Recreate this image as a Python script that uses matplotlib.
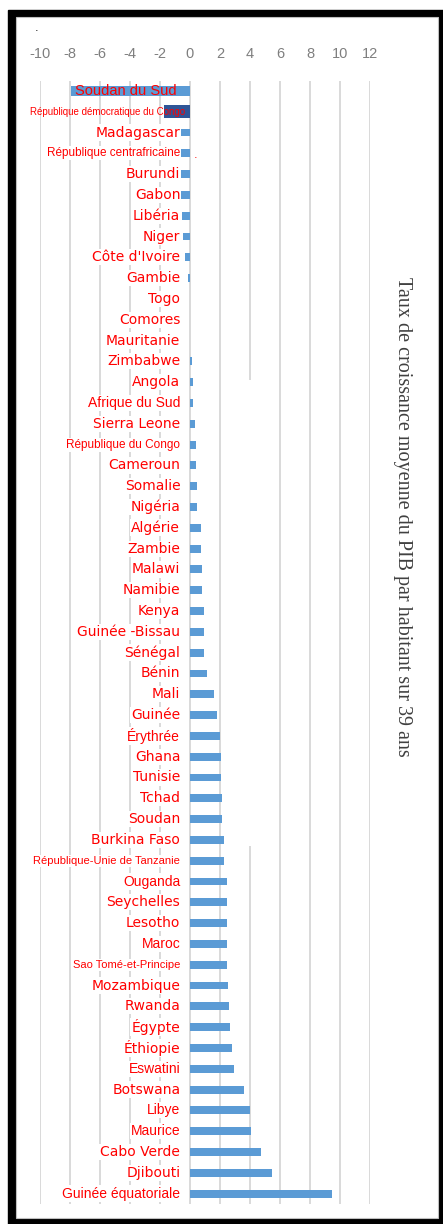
import numpy as np
import matplotlib.pyplot as plt
from matplotlib.patches import Rectangle

# data
pays = ['Soudan du Sud', 'République démocratique du Congo', 'Madagascar',
        'République centrafricaine', 'Burundi', 'Gabon', 'Libéria', 'Niger',
        "Côte d'Ivoire", 'Gambie', 'Togo', 'Comores', 'Mauritanie', 'Zimbabwe',
        'Angola', 'Afrique du Sud', 'Sierra Leone', 'République du Congo',
        'Cameroun', 'Somalie', 'Nigéria', 'Algérie', 'Zambie', 'Malawi',
        'Namibie', 'Kenya', 'Guinée -Bissau', 'Sénégal', 'Bénin', 'Mali',
        'Guinée', 'Érythrée', 'Ghana', 'Tunisie', 'Tchad', 'Soudan',
        'Burkina Faso', 'République-Unie de Tanzanie', 'Ouganda', 'Seychelles',
        'Lesotho', 'Maroc', 'Sao Tomé-et-Principe', 'Mozambique', 'Rwanda',
        'Égypte', 'Éthiopie', 'Eswatini', 'Botswana', 'Libye', 'Maurice',
        'Cabo Verde', 'Djibouti', 'Guinée équatoriale']
taux = [-7.93, -1.73, -0.78, -0.67, -0.67, -0.58, -0.53, -0.44, -0.31, -0.16,
        0.0, 0.0, 0.0, 0.13, 0.18, 0.22, 0.31, 0.42, 0.42, 0.49,
        0.49, 0.71, 0.71, 0.82, 0.82, 0.91, 0.91, 0.96, 1.16, 1.6,
        1.8, 2.0, 2.07, 2.07, 2.13, 2.13, 2.27, 2.27, 2.47, 2.47,
        2.47, 2.47, 2.47, 2.53, 2.6, 2.67, 2.8, 2.91, 3.62, 4.02,
        4.09, 4.73, 5.45, 9.45]
ticks = [-10, -8, -6, -4, -2, 0, 2, 4, 6, 8, 10, 12]
titre = 'Taux de croissance moyenne du PIB par habitant sur 39 ans'

# labels written in the narrower font (the rest look like a wide gothic font)
etroit = {'Soudan du Sud': 10.5, 'République démocratique du Congo': 7,
          'République centrafricaine': 8.5, 'Afrique du Sud': 10,
          'République du Congo': 8.5, 'République-Unie de Tanzanie': 8,
          'Ouganda': 10, 'Maroc': 10, 'Sao Tomé-et-Principe': 8,
          'Eswatini': 10, 'Maurice': 10, 'Guinée équatoriale': 10,
          'Libye': 10, 'Érythrée': 10}

W, H = 443, 1224
fig = plt.figure(figsize=(W / 100, H / 100), dpi=100)

# black frame
fig.patches.append(Rectangle((8 / W, 0), (W - 8) / W, (H - 10) / H,
                             transform=fig.transFigure, color='black', zorder=-3))
fig.patches.append(Rectangle((16 / W, 6 / H), (438 - 16) / W, (H - 17 - 6) / H,
                             transform=fig.transFigure, facecolor='white',
                             edgecolor='#BFBFBF', lw=0.8, zorder=-2))

ax = fig.add_axes([40 / W, 20 / H, 330 / W, 1123.5 / H])
ax.patch.set_alpha(0)
n = len(pays)
ax.set_xlim(-10, 12)
ax.set_ylim(n - 0.5, -0.5)

for t in ticks:
    if t == 4:
        ax.vlines(t, -0.5, 13.9, color='#D9D9D9', lw=1.4, zorder=0)
        ax.vlines(t, 36.3, n - 0.5, color='#D9D9D9', lw=1.4, zorder=0)
    else:
        ax.axvline(t, color='#D9D9D9', lw=1.4, zorder=0)

couleurs = ['#5B9BD5'] * n
couleurs[1] = '#2F5597'
hauteurs = [0.38] * n
hauteurs[0] = 0.5
hauteurs[1] = 0.62
ax.barh(np.arange(n), taux, height=hauteurs, color=couleurs, zorder=2)

for i, p in enumerate(pays):
    if p in etroit:
        fam, fs = 'Liberation Sans', etroit[p]
    else:
        fam, fs = 'DejaVu Sans', 10
    if i == 0:
        ax.text(-4.3, i, p, ha='center', va='center', color='red',
                fontsize=fs, family=fam, zorder=4)
    elif i == 1:
        ax.text(-0.35, i, p, ha='right', va='center', color='red',
                fontsize=fs, family=fam, zorder=4)
    else:
        ax.text(-0.65, i, p, ha='right', va='center', color='red',
                fontsize=fs, family=fam, zorder=3,
                bbox=dict(fc='white', ec='none', pad=0.8))

ax.xaxis.tick_top()
ax.set_xticks(ticks)
ax.set_xticklabels([str(t) for t in ticks], color='#7F7F7F', fontsize=10.5,
                   family='Liberation Sans')
ax.tick_params(axis='x', length=0, pad=14)
ax.set_yticks([])
for s in ax.spines.values():
    s.set_visible(False)

fig.text(402 / W, 1 - 517 / H, titre, rotation=-90, ha='center', va='center',
         family='Liberation Serif', fontsize=14.5, color='#404040')
fig.text(37 / W, 1 - 28 / H, '.', ha='center', va='center', fontsize=8, color='black')
fig.text(196 / W, 1 - 155 / H, '.', ha='center', va='center', fontsize=8, color='red')

fig.savefig('out.png', dpi=100)
